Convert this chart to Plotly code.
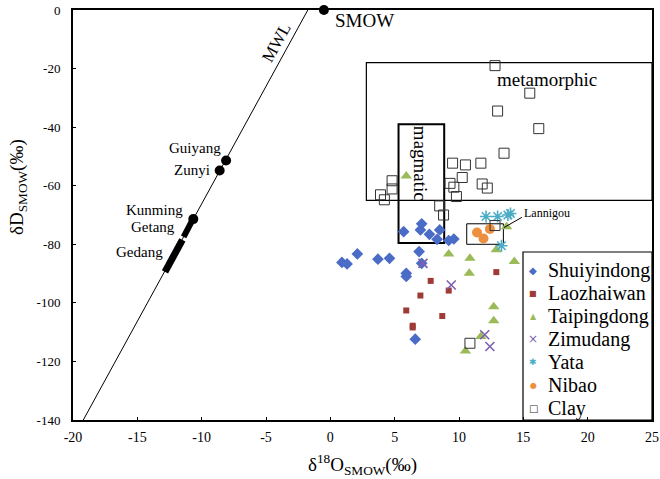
import plotly.graph_objects as go

# ---------------- data ----------------
shuiyindong_x = [0.9, 1.3, 2.1, 3.7, 4.6, 5.9, 5.9, 6.9, 7.1, 6.6, 5.7, 7.1, 7.0, 7.7, 8.5, 8.3, 9.2, 9.6]
shuiyindong_y = [-86.2, -86.7, -83.3, -85.1, -84.8, -89.9, -91.0, -82.5, -86.5, -112.4, -75.7, -73.0, -75.1, -76.6, -75.1, -78.3, -78.7, -78.2]

laozhaiwan_x = [12.9, 7.8, 9.2, 7.0, 5.9, 8.7, 6.4, 6.4]
laozhaiwan_y = [-89.5, -92.5, -95.8, -97.5, -102.6, -104.5, -107.8, -108.4]

taipingdong_x = [5.9, 9.2, 10.85, 10.8, 12.9, 13.7, 14.3, 12.7, 12.7, 11.7, 10.5]
taipingdong_y = [-56.7, -83.3, -84.8, -89.9, -81.9, -74.0, -85.9, -101.3, -106.1, -111.5, -116.4]

zimudang_x = [7.2, 9.4, 12.0, 12.4]
zimudang_y = [-86.5, -93.9, -110.9, -114.9]

yata_x = [12.1, 13.0, 13.8, 14.0, 13.3]
yata_y = [-70.5, -70.5, -70.0, -69.5, -80.5]

nibao_x = [11.4, 11.9, 12.4]
nibao_y = [-76.0, -78.0, -74.8]

clay_x = [12.8, 15.5, 13.0, 16.2, 13.5, 9.5, 10.5, 11.7, 10.25, 9.3, 9.6, 9.8, 11.8, 12.2, 4.8, 4.8, 3.9, 4.2, 8.5, 8.8, 12.8, 10.85]
clay_y = [-19.0, -28.4, -34.5, -40.5, -48.9, -52.3, -52.9, -52.3, -57.2, -59.2, -60.5, -63.7, -59.4, -60.8, -58.3, -61.1, -63.1, -64.8, -66.9, -70.0, -73.6, -113.8]

# meteoric water line end points and reference waters
mwl_x = [-19.2, -1.75]
mwl_y = [-140, 0]
ref_x = [-0.5, -8.1, -8.6, -10.65]
ref_y = [0, -51.4, -54.8, -71.4]
getang_x = [-10.75, -11.4]
getang_y = [-72, -77.5]
gedang_x = [-11.5, -12.85]
gedang_y = [-78.5, -89.4]

# fields (boxes): x0, x1, y0, y1
metamorphic_box = [2.8, 25, -65, -18]
magmatic_box = [5.3, 8.85, -79.6, -39]
lannigou_box = [10.6, 13.45, -80, -73]

x_tickvals = [-20, -15, -10, -5, 0, 5, 10, 15, 20, 25]
x_ticktext = ["-20", "-15", "-10", "-5", "0", "5", "10", "15", "20", "25"]
y_tickvals = [0, -20, -40, -60, -80, -100, -120, -140]
y_ticktext = ["0", "-20", "-40", "-60", "-80", "-100", "-120", "-140"]

legend_names = ["Shuiyindong", "Laozhaiwan", "Taipingdong", "Zimudang", "Yata", "Nibao", "Clay"]

SERIF = "Liberation Serif, Times New Roman, serif"
GLYPH = "DejaVu Sans"

series = [
    (shuiyindong_x, shuiyindong_y, dict(symbol="diamond", size=9, color="#4a6cc6"), ("◆", 10, "#4a6cc6")),
    (laozhaiwan_x, laozhaiwan_y, dict(symbol="square", size=6, color="#a03a36"), ("■", 8, "#a03a36")),
    (taipingdong_x, taipingdong_y, dict(symbol="triangle-up", size=10, color="#9bbb59"), ("▲", 8, "#9bbb59")),
    (zimudang_x, zimudang_y, dict(symbol="x-thin-open", size=9, color="#7e5fb0", line=dict(width=1.6, color="#7e5fb0")), ("×", 12, "#7e5fb0")),
    (yata_x, yata_y, dict(symbol="asterisk-open", size=10, color="#4bacc6", line=dict(width=1.6, color="#4bacc6")), ("✱", 9, "#4bacc6")),
    (nibao_x, nibao_y, dict(symbol="circle", size=10, color="#ec8f3e"), ("●", 8, "#ec8f3e")),
    (clay_x, clay_y, dict(symbol="square-open", size=10, color="#333333", line=dict(width=1, color="#333333")), ("□", 10, "#333333")),
]

fig = go.Figure()

# MWL and reference waters
fig.add_trace(go.Scatter(x=mwl_x, y=mwl_y, mode="lines", line=dict(color="black", width=1), showlegend=False, hoverinfo="skip"))
fig.add_trace(go.Scatter(x=getang_x, y=getang_y, mode="lines", line=dict(color="black", width=6), showlegend=False))
fig.add_trace(go.Scatter(x=gedang_x, y=gedang_y, mode="lines", line=dict(color="black", width=7), showlegend=False))
fig.add_trace(go.Scatter(x=ref_x, y=ref_y, mode="markers", marker=dict(color="black", size=10), showlegend=False, cliponaxis=False))

for (xs, ys, mk, g), name in zip(series, legend_names):
    fig.add_trace(go.Scatter(x=xs, y=ys, mode="markers", marker=mk, name=name, showlegend=False))

# boxes
for (x0, x1, y0, y1), w in [(metamorphic_box, 1.2), (magmatic_box, 2), (lannigou_box, 1)]:
    fig.add_shape(type="rect", x0=x0, x1=x1, y0=y0, y1=y1, line=dict(color="black", width=w), layer="below")
# Lannigou leader
fig.add_shape(type="line", x0=14.89, y0=-70.8, x1=13.49, y1=-74.3, line=dict(color="black", width=1))

# ---- manual legend (frame + glyphs + names) ----
PX_L, PX_T, PW, PH = 73, 10, 579, 410
def px2paper(px, py):
    return (px - PX_L) / PW, (PX_T + PH - py) / PH

lx0, ly1 = px2paper(523, 252)
fig.add_shape(type="rect", xref="paper", yref="paper", x0=lx0, x1=1.0, y0=0, y1=ly1, line=dict(color="black", width=1.2))
for i, ((xs, ys, mk, (gch, gsz, gcol)), name) in enumerate(zip(series, legend_names)):
    py = 270 + 23 * i
    gx, gy = px2paper(533, py)
    tx, _ = px2paper(546, py)
    fig.add_annotation(xref="paper", yref="paper", x=gx, y=gy, text=gch, showarrow=False,
                       xanchor="center", yanchor="middle", font=dict(family=GLYPH, size=gsz, color=gcol))
    fig.add_annotation(xref="paper", yref="paper", x=tx, y=gy, text=name, showarrow=False,
                       xanchor="left", yanchor="middle", font=dict(family=SERIF, size=20, color="black"))

ann = [
    dict(x=0.2, y=-3.75, text="SMOW", xanchor="left", size=19),
    dict(x=-8.34, y=-47.2, text="Guiyang", xanchor="right", size=15),
    dict(x=-9.22, y=-54.8, text="Zunyi", xanchor="right", size=15),
    dict(x=-11.3, y=-68.3, text="Kunming", xanchor="right", size=15),
    dict(x=-11.94, y=-74.0, text="Getang", xanchor="right", size=15),
    dict(x=-12.85, y=-82.8, text="Gedang", xanchor="right", size=15),
    dict(x=16.83, y=-23.9, text="metamorphic", xanchor="center", size=19),
    dict(x=14.9, y=-69.4, text="Lannigou", xanchor="left", size=12),
]
for a in ann:
    fig.add_annotation(x=a["x"], y=a["y"], text=a["text"], xanchor=a["xanchor"], yanchor="middle",
                       showarrow=False, font=dict(family=SERIF, size=a["size"], color="black"))
fig.add_annotation(x=7.07, y=-52.3, text="magmatic", textangle=90, showarrow=False,
                   font=dict(family=SERIF, size=19, color="black"))
fig.add_annotation(x=-4.17, y=-11.2, text="MWL", textangle=-61, showarrow=False,
                   font=dict(family=SERIF, size=17, color="black"))
# y axis title placed as annotation
ytx, yty = px2paper(18, 187)
fig.add_annotation(xref="paper", yref="paper", x=ytx, y=yty, text="δD<sub>SMOW</sub>(‰)", textangle=-90,
                   showarrow=False, xanchor="center", yanchor="middle",
                   font=dict(family=SERIF, size=19, color="black"))

fig.update_xaxes(range=[-20, 25], tickvals=x_tickvals, ticktext=x_ticktext, showgrid=False, zeroline=False,
                 showline=True, linecolor="black", linewidth=2, mirror=True, ticks="inside", ticklen=3,
                 tickcolor="black", tickfont=dict(family=SERIF, size=14, color="black"), automargin=False,
                 ticklabelstandoff=3,
                 title=dict(text="δ<sup>18</sup>O<sub>SMOW</sub>(‰)", font=dict(family=SERIF, size=19, color="black"), standoff=14))
fig.update_yaxes(range=[-140, 0], tickvals=y_tickvals, ticktext=y_ticktext, showgrid=False, zeroline=False,
                 showline=True, linecolor="black", linewidth=2, mirror=True, ticks="inside", ticklen=3,
                 tickcolor="black", tickfont=dict(family=SERIF, size=13, color="black"), ticklabelstandoff=8,
                 automargin=False)

fig.update_layout(
    width=660, height=479,
    margin=dict(l=PX_L, r=660 - PX_L - PW, t=PX_T, b=479 - PX_T - PH),
    plot_bgcolor="white", paper_bgcolor="white",
    showlegend=False,
)

fig.write_html("out.html", config={"displayModeBar": False},
               post_script="document.body.style.margin='0';document.body.style.overflow='hidden';")
